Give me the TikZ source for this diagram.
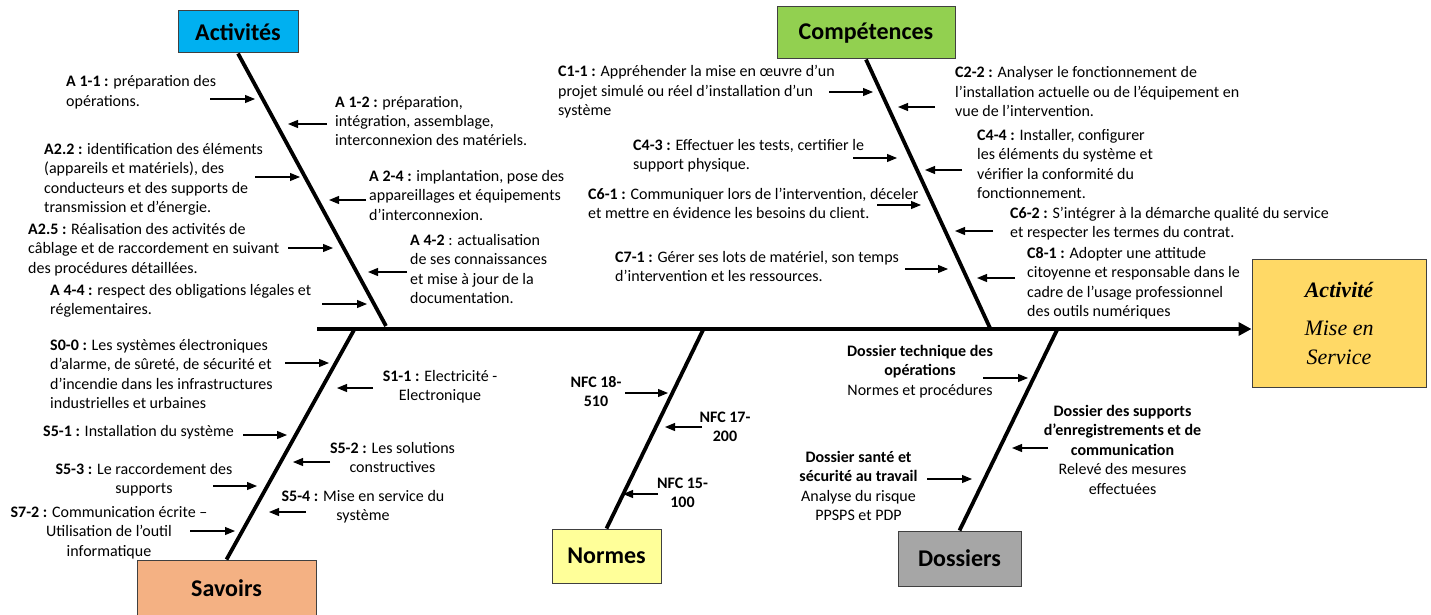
\documentclass[tikz,border=0pt]{standalone}
\usepackage{fontspec}
\setmainfont{Carlito}
\newfontfamily\timesf{Liberation Serif}
\usetikzlibrary{arrows.meta}
\definecolor{cact}{HTML}{00B0F0}
\definecolor{ccomp}{HTML}{92D050}
\definecolor{csav}{HTML}{F4B183}
\definecolor{cnorm}{HTML}{FFFF99}
\definecolor{cdos}{HTML}{A6A6A6}
\definecolor{cres}{HTML}{FFD966}
\begin{document}
\begin{tikzpicture}[x=1pt,y=-1pt,
  txt/.style={inner sep=0pt,font=\fontsize{16}{19.5}\selectfont,align=left,anchor=base west},
  txtc/.style={txt,align=center,anchor=base},
  ar/.style={-{Triangle[length=10pt,width=8pt]},line width=1.1pt},
  bone/.style={line width=3.8pt},
  catbox/.style={draw=black!75,line width=1pt,inner sep=0pt,font=\fontsize{24}{28}\selectfont\bfseries},
]
\useasboundingbox (0,0) rectangle (1431,615);

% category boxes
\node[catbox,fill=cact,minimum width=120pt,minimum height=42pt] (act) at (238,32) {Activités};
\node[catbox,fill=ccomp,minimum width=178pt,minimum height=52pt] (comp) at (866,33) {Compétences};
\node[catbox,fill=csav,minimum width=179pt,minimum height=56pt] (sav) at (226.5,588) {Savoirs};
\node[catbox,fill=cnorm,minimum width=109pt,minimum height=54pt] (norm) at (606.5,556) {Normes};
\node[catbox,fill=cdos,minimum width=123pt,minimum height=55pt] (dos) at (959.5,558.5) {Dossiers};
\node[draw=black!75,line width=1pt,fill=cres,minimum width=174pt,minimum height=128pt,align=center,
      font=\timesf\itshape\fontsize{22}{29}\selectfont] (res) at (1339,323)
      {\textbf{Activité}\\[9pt]Mise en\\Service};

% spine and bones
\coordinate (spL) at (317,329);
\draw[line width=3.8pt,-{Triangle[length=13pt,width=13pt]}] (spL) -- (spL -| res.west);
\coordinate (actJ) at (386,326);
\coordinate (compJ) at (990,328);
\coordinate (savJ) at (354,330);
\coordinate (normJ) at (703,330);
\coordinate (dosJ) at (1057,330);
\draw[bone] (act.south) -- (actJ);
\draw[bone] (comp.south) -- (compJ);
\draw[bone] (sav.north) -- (savJ);
\draw[bone] (norm.north) -- (normJ);
\draw[bone] (dos.north) -- (dosJ);

% Activités texts (anchor = baseline of last line)
\node[txt] (a11) at (66,106.5) {\textbf{A 1-1 :} préparation des\\opérations.};
\node[txt] (a22) at (44,212.5) {\textbf{A2.2 :} identification des éléments\\(appareils et matériels), des\\conducteurs et des supports de\\transmission et d’énergie.};
\node[txt] (a25) at (28,273) {\textbf{A2.5 :} Réalisation des activités de\\câblage et de raccordement en suivant\\des procédures détaillées.};
\node[txt] (a44) at (50,314.5) {\textbf{A 4-4 :} respect des obligations légales et\\réglementaires.};
\node[txt] (a12) at (335,146) {\textbf{A 1-2 :} préparation,\\intégration, assemblage,\\interconnexion des matériels.};
\node[txt] (a24) at (369,220) {\textbf{A 2-4 :} implantation, pose des\\appareillages et équipements\\d'interconnexion.};
\node[txt] (a42) at (410,303.5) {\textbf{A 4-2} : actualisation\\de ses connaissances\\et mise à jour de la\\documentation.};

% Compétences texts
\node[txt] (c11) at (558,116) {\textbf{C1-1 :} Appréhender la mise en œuvre d’un\\projet simulé ou réel d’installation d’un\\système};
\node[txt] (c43) at (633,169.5) {\textbf{C4-3 :} Effectuer les tests, certifier le\\support physique.};
\node[txt] (c61) at (588,218.5) {\textbf{C6-1 :} Communiquer lors de l'intervention, déceler\\et mettre en évidence les besoins du client.};
\node[txt] (c71) at (615,281.5) {\textbf{C7-1 :} Gérer ses lots de matériel, son temps\\d'intervention et les ressources.};
\node[txt] (c22) at (955,117) {\textbf{C2-2 :} Analyser le fonctionnement de\\l'installation actuelle ou de l'équipement en\\vue de l'intervention.};
\node[txt] (c44) at (977,198.5) {\textbf{C4-4 :} Installer, configurer\\les éléments du système et\\vérifier la conformité du\\fonctionnement.};
\node[txt] (c62) at (1010,237.5) {\textbf{C6-2 :} S'intégrer à la démarche qualité du service\\et respecter les termes du contrat.};
\node[txt] (c81) at (1027,316.5) {\textbf{C8-1 :} Adopter une attitude\\citoyenne et responsable dans le\\cadre de l’usage professionnel\\des outils numériques};

% Savoirs texts
\node[txt] (s00) at (50,408.5) {\textbf{S0-0 :} Les systèmes électroniques\\d'alarme, de sûreté, de sécurité et\\d'incendie dans les infrastructures\\industrielles et urbaines};
\node[txt] (s51) at (43,436) {\textbf{S5-1 :} Installation du système};
\node[txtc] (s53) at (144,493.5) {\textbf{S5-3 :} Le raccordement des\\supports};
\node[txtc] (s72) at (109,556) {\textbf{S7-2 :} Communication écrite –\\Utilisation de l’outil\\informatique};
\node[txtc] (s11) at (440,400.5) {\textbf{S1-1 :} Electricité -\\Electronique};
\node[txtc] (s52) at (392.5,472.5) {\textbf{S5-2 :} Les solutions\\constructives};
\node[txtc] (s54) at (363,520.5) {\textbf{S5-4 :} Mise en service du\\système};

% Normes texts
\node[txtc,font=\fontsize{16}{19.5}\selectfont\bfseries] (n18) at (596,406.5) {NFC 18-\\510};
\node[txtc,font=\fontsize{16}{19.5}\selectfont\bfseries] (n17) at (725,441.5) {NFC 17-\\200};
\node[txtc,font=\fontsize{16}{19.5}\selectfont\bfseries] (n15) at (682.5,507.5) {NFC 15-\\100};

% Dossiers texts
\node[txtc] (d1) at (920,395) {\textbf{Dossier technique des}\\\textbf{opérations}\\Normes et procédures};
\node[txtc] (d2) at (1122.5,494) {\textbf{Dossier des supports}\\\textbf{d’enregistrements et de}\\\textbf{communication}\\Relevé des mesures\\effectuées};
\node[txtc] (d3) at (858.5,520.5) {\textbf{Dossier santé et}\\\textbf{sécurité au travail}\\Analyse du risque\\PPSPS et PDP};

% arrows
\foreach \n/\xa/\xb/\yy in {a11/210/255/99, a22/255/300/177, a25/288/333/248, a44/322/367/304,
  a12/327/288/124, a24/366/329/200, a42/407/368/272,
  c11/829/873/92, c43/853/897/158, c61/877/921/205, c71/905/948/269,
  c22/935/898/107, c44/962/925/170, c62/993/955/231, c81/1015/977/278,
  s00/285/329/363, s51/243/287/435, s53/213/257/486, s72/190/235/531,
  s11/373/337/388, s52/330/293/462, s54/306/269/512,
  n18/625/668/393, n17/702/665/427, n15/658/623/494,
  d1/983/1028/378, d2/1048/1012/448, d3/927/972/479}{
  \coordinate (\n t) at (\xa,\yy);
  \coordinate (\n h) at (\xb,\yy);
  \draw[ar] (\n t) -- (\n h);
}
\end{tikzpicture}
\end{document}
